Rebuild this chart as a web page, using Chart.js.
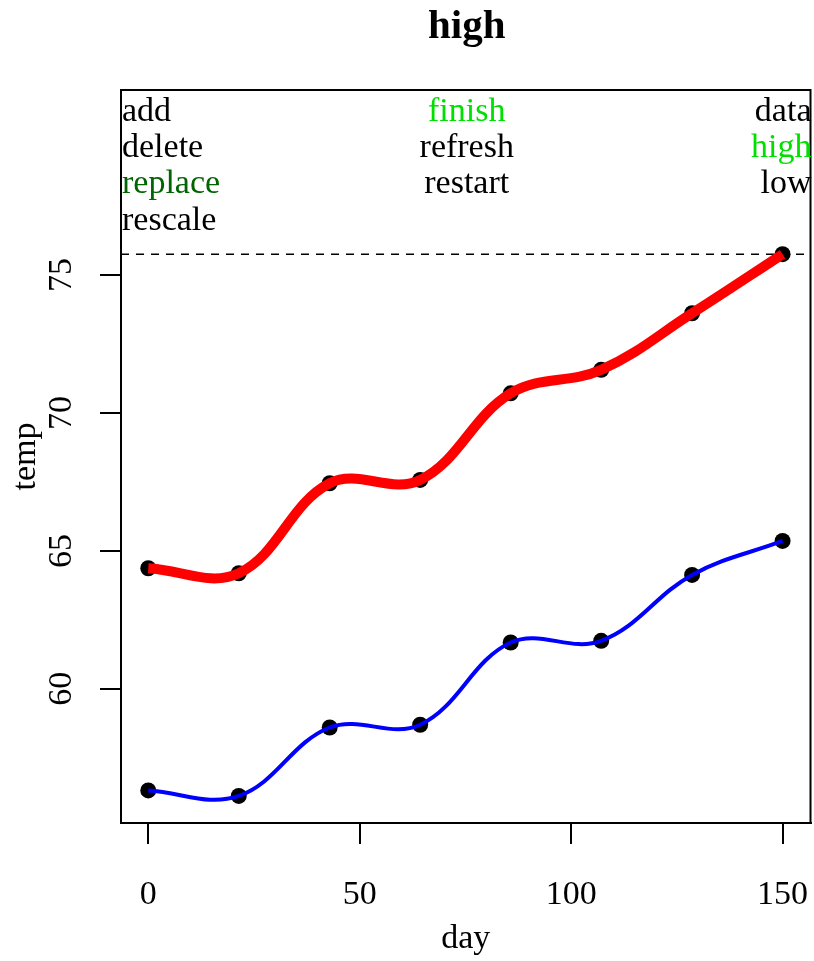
<!DOCTYPE html>
<html>
<head>
<meta charset="utf-8">
<script src="https://cdn.jsdelivr.net/npm/chart.js@4/dist/chart.umd.min.js"></script>
<style>
  html, body { margin: 0; padding: 0; background: #ffffff; }
  #wrap { width: 814px; height: 961px; }
</style>
</head>
<body>
<div id="wrap"><canvas id="c" width="814" height="961"></canvas></div>
<script>
// ---- data ----
const days = [0, 21.4, 42.9, 64.3, 85.7, 107.1, 128.6, 150];
const high = [64.37, 64.19, 67.45, 67.57, 70.71, 71.56, 73.61, 75.75];
const low  = [56.32, 56.12, 58.60, 58.70, 61.68, 61.74, 64.13, 65.36];
const xTicks = [0, 50, 100, 150];
const yTicks = [60, 65, 70, 75];
const titleText = 'high';
const xTitle = 'day';
const yTitle = 'temp';
const menuLeft = ['add', 'delete', 'replace', 'rescale'];
const menuCenter = ['finish', 'refresh', 'restart'];
const menuRight = ['data', 'high', 'low'];

// ---- styling ----
const FONT = '"Liberation Serif", "Times New Roman", serif';
const menuLeftColors = ['#000000', '#000000', '#006400', '#000000'];
const menuCenterColors = ['#00e000', '#000000', '#000000'];
const menuRightColors = ['#000000', '#00e000', '#000000'];
const menuRowOffsets = [22, 58, 94, 131];

const toXY = (xs, ys) => xs.map((x, i) => ({x: x, y: ys[i]}));

const deco = {
  id: 'deco',
  beforeDatasetsDraw(chart) {
    const {ctx, chartArea: a, scales: {y}} = chart;
    const yy = y.getPixelForValue(Math.max(...high));
    ctx.save();
    ctx.strokeStyle = '#000';
    ctx.lineWidth = 1.5;
    ctx.setLineDash([8, 7]);
    ctx.beginPath();
    ctx.moveTo(a.left, yy);
    ctx.lineTo(a.right, yy);
    ctx.stroke();
    ctx.restore();
  },
  afterDraw(chart) {
    const {ctx, chartArea: a} = chart;
    ctx.save();
    // box
    ctx.strokeStyle = '#000';
    ctx.lineWidth = 2;
    ctx.strokeRect(a.left, a.top, a.right - a.left, a.bottom - a.top);
    // title
    ctx.fillStyle = '#000';
    ctx.font = 'bold 41px ' + FONT;
    ctx.textAlign = 'center';
    ctx.textBaseline = 'middle';
    ctx.fillText(titleText, (a.left + a.right) / 2 + 1, 27);
    // menu text
    ctx.font = '34px ' + FONT;
    ctx.textAlign = 'left';
    menuLeft.forEach((t, i) => { ctx.fillStyle = menuLeftColors[i]; ctx.fillText(t, a.left + 1, a.top + menuRowOffsets[i]); });
    ctx.textAlign = 'center';
    menuCenter.forEach((t, i) => { ctx.fillStyle = menuCenterColors[i]; ctx.fillText(t, (a.left + a.right) / 2 + 1, a.top + menuRowOffsets[i]); });
    ctx.textAlign = 'right';
    menuRight.forEach((t, i) => { ctx.fillStyle = menuRightColors[i]; ctx.fillText(t, a.right + 1, a.top + menuRowOffsets[i]); });
    ctx.restore();
  }
};

new Chart(document.getElementById('c'), {
  type: 'line',
  data: {
    datasets: [
      { label: 'high', data: toXY(days, high), borderColor: '#ff0000', borderWidth: 10,
        pointRadius: 0, tension: 0.38, fill: false, order: 0, borderJoinStyle: 'round' },
      { label: 'low', data: toXY(days, low), borderColor: '#0000ff', borderWidth: 4,
        pointRadius: 0, tension: 0.38, fill: false, order: 0, borderJoinStyle: 'round' },
      { label: 'high points', data: toXY(days, high), showLine: false, pointRadius: 8,
        pointBackgroundColor: '#000', pointBorderColor: '#000', pointBorderWidth: 0, order: 1 },
      { label: 'low points', data: toXY(days, low), showLine: false, pointRadius: 8,
        pointBackgroundColor: '#000', pointBorderColor: '#000', pointBorderWidth: 0, order: 1 }
    ]
  },
  options: {
    responsive: false,
    animation: false,
    events: [],
    layout: { autoPadding: false, padding: { top: 90, right: 3.5, left: 0, bottom: 0 } },
    plugins: { legend: { display: false }, tooltip: { enabled: false }, title: { display: false } },
    scales: {
      x: {
        type: 'linear', position: 'bottom', min: -6.45, max: 156.6,
        afterBuildTicks: s => { s.ticks = xTicks.map(v => ({value: v})); },
        afterFit: s => { s.height = 138; s.paddingLeft = 0; s.paddingRight = 0; },
        grid: { display: true, drawOnChartArea: false, drawTicks: true, tickLength: 21, color: '#000', lineWidth: 2 },
        border: { display: true, color: '#000', width: 2 },
        ticks: { color: '#000', font: { family: FONT, size: 34 }, padding: 31, maxRotation: 0, autoSkip: false },
        title: { display: true, text: xTitle, color: '#000', font: { family: FONT, size: 34 }, padding: { top: 0, bottom: 2 } }
      },
      y: {
        type: 'linear', position: 'left', min: 55.14, max: 81.7,
        afterBuildTicks: s => { s.ticks = yTicks.map(v => ({value: v})); },
        afterFit: s => { s.width = 121; s.paddingTop = 0; s.paddingBottom = 0; },
        grid: { display: true, drawOnChartArea: false, drawTicks: true, tickLength: 21, color: '#000', lineWidth: 2 },
        border: { display: true, color: '#000', width: 2 },
        ticks: { color: '#000', font: { family: FONT, size: 34 }, padding: 21, minRotation: 90, maxRotation: 90,
                 crossAlign: 'center', autoSkip: false },
        title: { display: true, text: yTitle, color: '#000', font: { family: FONT, size: 34 }, padding: { top: 6, bottom: 0 } }
      }
    }
  },
  plugins: [deco]
});
</script>
</body>
</html>
